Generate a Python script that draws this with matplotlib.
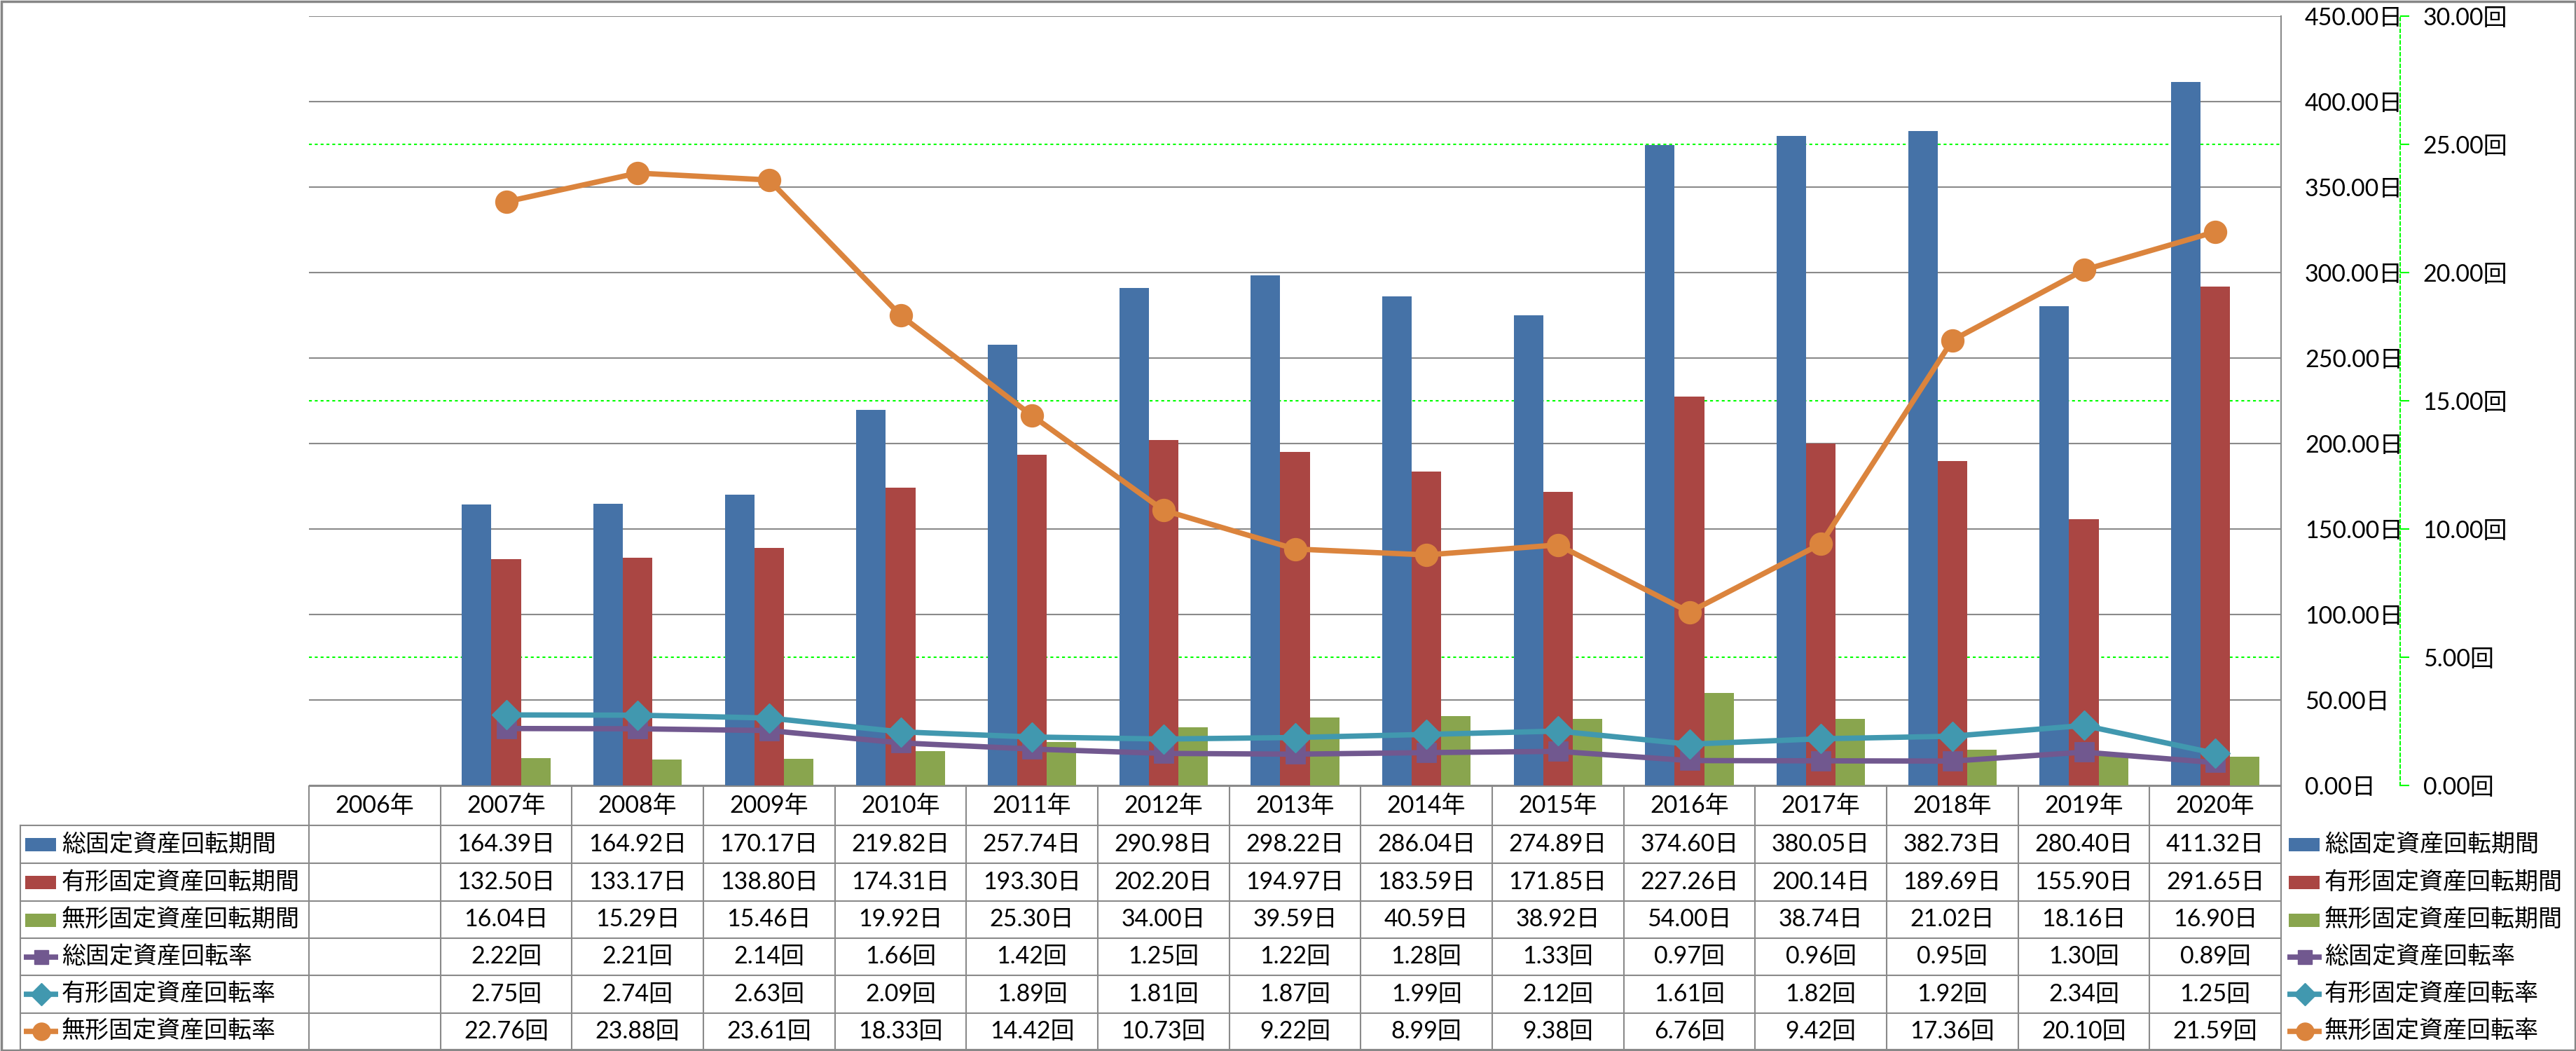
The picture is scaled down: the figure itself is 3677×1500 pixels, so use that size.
import numpy as np
import matplotlib
matplotlib.use("Agg")
import matplotlib.pyplot as plt
from matplotlib import font_manager
from matplotlib.patches import Rectangle

# ---- data (2006 has no values) ----
years = ["2006年", "2007年", "2008年", "2009年", "2010年", "2011年", "2012年", "2013年",
         "2014年", "2015年", "2016年", "2017年", "2018年", "2019年", "2020年"]

total_days = [164.39, 164.92, 170.17, 219.82, 257.74, 290.98, 298.22,
              286.04, 274.89, 374.60, 380.05, 382.73, 280.40, 411.32]
tangible_days = [132.50, 133.17, 138.80, 174.31, 193.30, 202.20, 194.97,
                 183.59, 171.85, 227.26, 200.14, 189.69, 155.90, 291.65]
intangible_days = [16.04, 15.29, 15.46, 19.92, 25.30, 34.00, 39.59,
                   40.59, 38.92, 54.00, 38.74, 21.02, 18.16, 16.90]
total_rate = [2.22, 2.21, 2.14, 1.66, 1.42, 1.25, 1.22,
              1.28, 1.33, 0.97, 0.96, 0.95, 1.30, 0.89]
tangible_rate = [2.75, 2.74, 2.63, 2.09, 1.89, 1.81, 1.87,
                 1.99, 2.12, 1.61, 1.82, 1.92, 2.34, 1.25]
intangible_rate = [22.76, 23.88, 23.61, 18.33, 14.42, 10.73, 9.22,
                   8.99, 9.38, 6.76, 9.42, 17.36, 20.10, 21.59]

names = ["総固定資産回転期間", "有形固定資産回転期間", "無形固定資産回転期間",
         "総固定資産回転率", "有形固定資産回転率", "無形固定資産回転率"]
units = ["日", "日", "日", "回", "回", "回"]

BLUE, RED, GREEN = "#4572A7", "#AA4643", "#89A54E"
PURPLE, TEAL, ORANGE = "#71588F", "#4198AF", "#DB843D"
GRID = "#8a8a8a"
LIME = "#00ff00"

installed = {f.name for f in font_manager.fontManager.ttflist}
latin = "Liberation Sans Narrow" if "Liberation Sans Narrow" in installed else "Lato"
plt.rcParams["font.family"] = [latin, "Noto Sans CJK JP"]
plt.rcParams["font.size"] = 24.5

W, H = 3677, 1500
fig = plt.figure(figsize=(W / 100, H / 100), dpi=100)

# plot area in pixels
PL, PR, PT, PB = 441, 3256, 23, 1121
ncat = len(years)
colw = (PR - PL) / ncat

ax = fig.add_axes([PL / W, 1 - PB / H, (PR - PL) / W, (PB - PT) / H])
x = np.arange(1, ncat)
bw = 0.224

ax.bar(x - bw, total_days, bw, color=BLUE, zorder=3)
ax.bar(x, tangible_days, bw, color=RED, zorder=3)
ax.bar(x + bw, intangible_days, bw, color=GREEN, zorder=3)

ax.set_xlim(-0.5, ncat - 0.5)
ax.set_ylim(0, 450)
left_ticks = np.arange(0, 451, 50)
ax.set_yticks(left_ticks)
ax.set_yticklabels([f"{v:.2f}日" for v in left_ticks])
ax.grid(axis="y", color=GRID, lw=1.5, zorder=1)
ax.set_axisbelow(True)
ax.set_xticks([])

# secondary axis for the rates
ax2 = ax.twinx()
ax2.set_ylim(0, 30)
right_ticks = np.arange(0, 31, 5)
for t in right_ticks:
    # green dotted gridlines only where they don't sit on a grey one
    if (t * 450 / 30) % 50 != 0:
        ax.axhline(t * 450 / 30, color=LIME, lw=1.5, ls=(0, (2, 2)), zorder=1)

ax2.plot(x, total_rate, color=PURPLE, lw=5.5, marker="s", ms=19,
         mec=PURPLE, mew=2, zorder=3)
ax2.plot(x, tangible_rate, color=TEAL, lw=5.5, marker="D", ms=21,
         mec=TEAL, mew=1, zorder=4)
ax2.plot(x, intangible_rate, color=ORANGE, lw=5.5, marker="o", ms=23,
         mec=ORANGE, mew=1, zorder=5)

ax2.set_yticks(right_ticks)
ax2.set_yticklabels([f"{v:.2f}回" for v in right_ticks])
ax2.spines["right"].set_position(("axes", (3426 - PL) / (PR - PL)))
ax2.spines["right"].set_color(LIME)
ax2.spines["right"].set_linestyle((0, (2, 2)))
ax2.spines["right"].set_linewidth(1.5)
ax2.tick_params(axis="y", color=LIME, labelcolor="black", length=9.5, width=1.5, pad=14)
for s in ["left", "top", "bottom"]:
    ax2.spines[s].set_visible(False)

# twinx moves the primary ticks to the left, put them back
ax.yaxis.tick_right()
ax.tick_params(axis="y", length=0, pad=24.5)
for s in ["left", "top", "bottom"]:
    ax.spines[s].set_visible(False)
ax.spines["right"].set_color(GRID)
ax.spines["right"].set_linewidth(1.5)

# ---- data table and legend, drawn in pixel coordinates ----
tab = fig.add_axes([0, 0, 1, 1])
tab.set_xlim(0, W)
tab.set_ylim(H, 0)
tab.axis("off")

rows = [1122, 1178, 1232, 1286, 1339, 1392, 1446, 1498]
edges = PL + np.arange(ncat + 1) * colw
TL = 29

tab.plot([PL, PR], [rows[0], rows[0]], color=GRID, lw=1.5)
for y in rows[1:]:
    tab.plot([TL, PR], [y, y], color=GRID, lw=1.5)
for xe in edges:
    tab.plot([xe, xe], [rows[0], rows[-1]], color=GRID, lw=1.5)
tab.plot([TL, TL], [rows[1], rows[-1]], color=GRID, lw=1.5)

yc_head = (rows[0] + rows[1]) / 2
for i, yr in enumerate(years):
    tab.text(PL + (i + 0.5) * colw, yc_head, yr, ha="center", va="center")

series = [total_days, tangible_days, intangible_days,
          total_rate, tangible_rate, intangible_rate]
colors = [BLUE, RED, GREEN, PURPLE, TEAL, ORANGE]
markers = [None, None, None, ("s", 15), ("D", 16), ("o", 18)]


def draw_key(x0, yc, k):
    if markers[k] is None:
        tab.add_patch(Rectangle((x0, yc - 9), 44, 19, color=colors[k], lw=0))
    else:
        m, ms = markers[k]
        tab.plot([x0 - 2, x0 + 47], [yc, yc], color=colors[k], lw=5.5,
                 solid_capstyle="butt")
        tab.plot([x0 + 22.5], [yc], marker=m, ms=ms, color=colors[k], mec=colors[k])


for k in range(6):
    yc = (rows[k + 1] + rows[k + 2]) / 2
    draw_key(36, yc, k)
    tab.text(88, yc, names[k], ha="left", va="center")
    for j, v in enumerate(series[k]):
        tab.text(PL + (j + 1.5) * colw, yc, f"{v:.2f}{units[k]}", ha="center", va="center")
    # legend at the right
    draw_key(3267, yc, k)
    tab.text(3318, yc, names[k], ha="left", va="center")

# outer frame
tab.add_patch(Rectangle((1.5, 1.5), W - 3, H - 3, fill=False, ec="#868686", lw=2.5))

fig.savefig("out.png", dpi=100)
